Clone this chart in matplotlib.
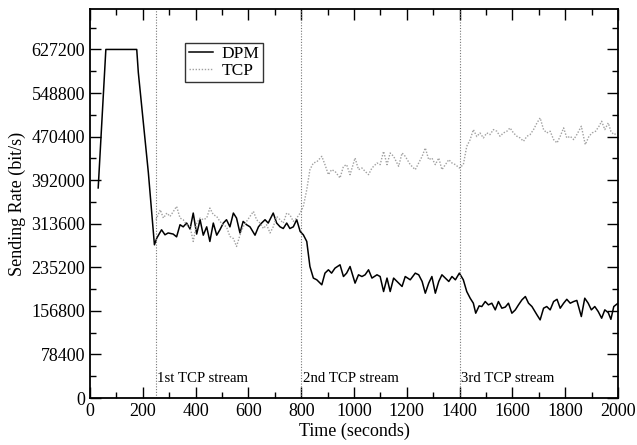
import numpy as np
import matplotlib
matplotlib.use("Agg")
import matplotlib.pyplot as plt
from matplotlib.ticker import MultipleLocator

plt.rcParams['font.family'] = ['Liberation Serif', 'DejaVu Serif']

# DPM sending rate (time in s, rate in bit/s)
dpm_t = [31, 60, 177, 183, 221, 244, 253, 271, 284, 296, 315, 328, 341, 353, 366,
         379, 391, 404, 417, 429, 442, 454, 467, 480, 492, 505, 517, 530, 543, 555,
         568, 580, 593, 606, 625, 638, 650, 663, 675, 694, 707, 720, 732, 745, 757,
         770, 783, 796, 808, 821, 833, 846, 859, 878, 890, 903, 915, 928, 947, 960,
         972, 985, 1004, 1017, 1030, 1042, 1055, 1068, 1087, 1099, 1112, 1125, 1137,
         1150, 1169, 1182, 1194, 1213, 1232, 1245, 1258, 1270, 1283, 1295, 1308, 1321,
         1333, 1346, 1359, 1371, 1384, 1399, 1414, 1427, 1440, 1452, 1461, 1474, 1484,
         1497, 1509, 1522, 1535, 1547, 1560, 1573, 1585, 1598, 1611, 1623, 1636, 1649,
         1661, 1674, 1693, 1705, 1718, 1730, 1743, 1756, 1769, 1781, 1794, 1806, 1819,
         1832, 1844, 1861, 1874, 1887, 1899, 1912, 1925, 1938, 1950, 1963, 1973, 1984,
         2000]
dpm_v = [378000, 627200, 627200, 585700, 405500, 275700, 287800, 302700, 293700, 297000,
         295000, 290000, 311800, 308000, 314800, 304000, 332800, 295000, 320800, 293000,
         308000, 281700, 314800, 293000, 302700, 314800, 320800, 308000, 332800, 323800,
         297000, 317800, 311800, 308000, 293000, 308000, 314800, 320800, 314800, 332800,
         314800, 308000, 305000, 314800, 305000, 308000, 320800, 299700, 293700, 281700,
         236600, 215800, 212700, 203700, 224700, 230700, 224700, 233700, 239700, 218600,
         224700, 236600, 206700, 221700, 218600, 221700, 230700, 215800, 221700, 218600,
         191600, 215800, 191600, 215800, 206700, 200700, 218600, 212700, 224700, 221700,
         209700, 188600, 206700, 218600, 188600, 209700, 221700, 215800, 209700, 218600,
         212700, 224700, 212700, 191600, 179600, 170600, 152600, 165800, 164600, 173600,
         167600, 170600, 158600, 173600, 161600, 163600, 170600, 152600, 158600, 167600,
         176600, 182600, 170600, 164600, 149600, 140600, 161600, 164600, 158600, 173600,
         177600, 161600, 170600, 177600, 170600, 173600, 175600, 146600, 179600, 170600,
         158600, 164600, 155600, 143600, 158600, 153600, 141600, 164600, 170600]

# TCP sending rate
tcp_t = [250, 266, 278, 291, 303, 316, 328, 341, 353, 366, 379, 391, 404, 417, 429,
         442, 454, 467, 480, 492, 505, 517, 530, 543, 555, 568, 580, 593, 606, 619,
         631, 644, 657, 669, 682, 694, 707, 720, 732, 745, 757, 770, 783, 796, 808,
         821, 833, 846, 859, 878, 890, 903, 915, 928, 947, 960, 972, 985, 1004, 1017,
         1030, 1042, 1055, 1068, 1087, 1099, 1112, 1125, 1137, 1150, 1169, 1182, 1194,
         1213, 1232, 1245, 1258, 1270, 1283, 1295, 1308, 1321, 1333, 1346, 1359, 1371,
         1384, 1399, 1414, 1427, 1440, 1452, 1465, 1477, 1490, 1503, 1515, 1528, 1541,
         1553, 1566, 1579, 1591, 1604, 1617, 1629, 1642, 1655, 1667, 1680, 1693, 1705,
         1718, 1730, 1743, 1756, 1769, 1781, 1794, 1806, 1819, 1832, 1844, 1861, 1876,
         1890, 1902, 1915, 1928, 1938, 1950, 1963, 1973, 1984, 2000]
tcp_v = [320800, 338800, 323800, 332800, 326700, 335800, 344800, 323800, 320800, 311800,
         308000, 281700, 314800, 323800, 320800, 323800, 341800, 329800, 326700, 317800,
         311800, 308000, 290700, 287000, 272700, 293000, 308000, 317800, 326700, 335800,
         320800, 314800, 305000, 311800, 297000, 308000, 326700, 320800, 314800, 332800,
         329800, 317800, 323800, 332800, 344800, 374800, 410900, 422900, 425000, 434900,
         419900, 401900, 410900, 407900, 395900, 416900, 419900, 401900, 431900, 410900,
         413900, 407900, 401900, 413900, 422900, 419900, 443900, 419900, 440900, 434900,
         416900, 440900, 434900, 419900, 410900, 422900, 434900, 449900, 428900, 431900,
         419900, 431900, 410900, 419900, 428900, 422900, 419900, 413900, 419900, 452900,
         465000, 483000, 470400, 477000, 468000, 477000, 474000, 483000, 480000, 471000,
         477000, 480000, 486000, 477000, 471000, 468000, 462000, 471000, 474000, 483000,
         495000, 504000, 483000, 477000, 480000, 465000, 459000, 471000, 486000, 468000,
         471000, 465000, 474000, 489000, 456000, 471000, 477000, 480000, 489000, 498000,
         483000, 495000, 480000, 474000, 477000]

stream_starts = [250, 800, 1400]
stream_labels = ["1st TCP stream", "2nd TCP stream", "3rd TCP stream"]

fig = plt.figure(figsize=(6.37, 4.45), dpi=100)
ax = fig.add_axes([0.1413, 0.1056, 0.8289, 0.8742])

ax.plot(dpm_t, dpm_v, color="black", lw=1.1, label="DPM")
ax.plot(tcp_t, tcp_v, color="#a0a0a0", lw=1.0, linestyle=(0, (1, 1.2)), label="TCP")

for x0, lab in zip(stream_starts, stream_labels):
    ax.axvline(x0, color="#777777", lw=0.8, linestyle=(0, (1, 1.5)))
    ax.text(x0 + 5, 36000, lab, fontsize=10.7, va="center", ha="left")

ax.set_xlim(0, 2000)
ax.set_ylim(0, 700000)
ax.xaxis.set_major_locator(MultipleLocator(200))
ax.xaxis.set_minor_locator(MultipleLocator(100))
ax.yaxis.set_major_locator(MultipleLocator(78400))
ax.yaxis.set_minor_locator(MultipleLocator(39200))
ax.tick_params(which="both", direction="in", top=True, right=True, labelsize=13, width=1)
ax.tick_params(which="major", length=8)
ax.tick_params(which="minor", length=4)
for s in ax.spines.values():
    s.set_linewidth(1.3)

ax.set_xlabel("Time (seconds)", fontsize=13, labelpad=2)
ax.set_ylabel("Sending Rate (bit/s)", fontsize=13, labelpad=4)

leg = ax.legend(loc="upper left", bbox_to_anchor=(0.18, 0.913), borderaxespad=0,
                fontsize=12.5, frameon=True, fancybox=False, handlelength=1.4,
                handletextpad=0.5, borderpad=0.2, labelspacing=0.0)
leg.get_frame().set_edgecolor("black")
leg.get_frame().set_linewidth(1.0)

fig.savefig("out.png", dpi=100)
